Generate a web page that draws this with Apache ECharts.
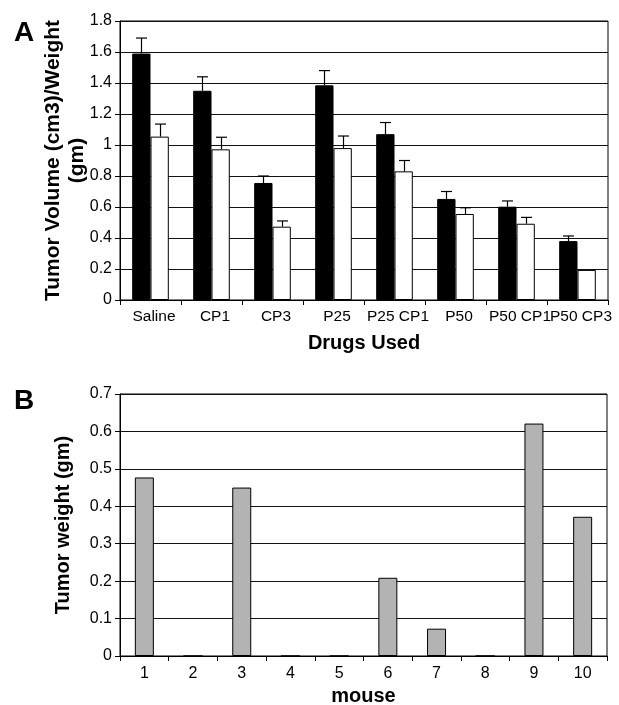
<!DOCTYPE html>
<html>
<head>
<meta charset="utf-8">
<script src="https://cdn.jsdelivr.net/npm/echarts@6/dist/echarts.min.js"></script>
<style>
  html, body { margin: 0; padding: 0; background: #fff; }
  #main { width: 619px; height: 705px; }
</style>
</head>
<body>
<div id="main"></div>
<script>
// panel A: drugs
var drugs = ['Saline', 'CP1', 'CP3', 'P25', 'P25 CP1', 'P50', 'P50 CP1', 'P50 CP3'];
var blackMeans = [1.59, 1.35, 0.755, 1.385, 1.07, 0.652, 0.602, 0.38];
var blackErrs = [0.10, 0.09, 0.045, 0.095, 0.075, 0.048, 0.037, 0.033];
var whiteMeans = [1.054, 0.972, 0.473, 0.98, 0.83, 0.555, 0.492, 0.194];
var whiteErrs = [0.081, 0.078, 0.037, 0.078, 0.07, 0.04, 0.041, 0];

// panel B: mice
var mice = ['1', '2', '3', '4', '5', '6', '7', '8', '9', '10'];
var tumorWeights = [0.477, 0, 0.45, 0, 0, 0.209, 0.073, 0, 0.621, 0.372];

var font = 'Liberation Sans, Arial, sans-serif';
var barFrac = 0.30;

var chart = echarts.init(document.getElementById('main'));

function errData(means, errs) {
  return means.map(function (m, i) {
    return [i, m, m + errs[i]];
  });
}

function errRenderer(side) {
  return function (params, api) {
    var i = api.value(0);
    var base = api.coord([i, api.value(1)]);
    var top = api.coord([i, api.value(2)]);
    var band = api.size([1, 0])[0];
    var cx = Math.round(base[0] + side * band * barFrac / 2) + 0.5;
    if (api.value(2) - api.value(1) <= 0) return null;
    return {
      type: 'group',
      children: [
        { type: 'line', shape: { x1: cx, y1: base[1], x2: cx, y2: top[1] }, style: { stroke: '#000', lineWidth: 1.2 } },
        { type: 'line', shape: { x1: cx - 5.5, y1: top[1], x2: cx + 5.5, y2: top[1] }, style: { stroke: '#000', lineWidth: 1.2 } }
      ]
    };
  };
}

var axisText = { color: '#000', fontSize: 16, fontFamily: font };
var nameText = { color: '#000', fontSize: 20, fontWeight: 'bold', fontFamily: font };

option = {
  backgroundColor: '#fff',
  animation: false,
  title: [
    { text: 'A', left: 9, top: 14, textStyle: { fontSize: 28, fontWeight: 'bold', color: '#000', fontFamily: font } },
    { text: 'B', left: 9, top: 382, textStyle: { fontSize: 28, fontWeight: 'bold', color: '#000', fontFamily: font } }
  ],
  grid: [
    { left: 120, right: 11, top: 21, bottom: 405, show: true, borderColor: '#000', borderWidth: 1, outerBoundsMode: 'none' },
    { left: 120, right: 12, top: 394, bottom: 49, show: true, borderColor: '#000', borderWidth: 1, outerBoundsMode: 'none' }
  ],
  xAxis: [
    {
      gridIndex: 0, type: 'category', data: drugs,
      axisLine: { lineStyle: { color: '#000', width: 1 } },
      axisTick: { show: true, length: 5, lineStyle: { color: '#000' } },
      axisLabel: Object.assign({ margin: 9, interval: 0, padding: [0, 0, 0, 7] }, axisText, { fontSize: 15.5 }),
      name: 'Drugs Used', nameLocation: 'middle', nameGap: 33, nameMoveOverlap: false,
      nameTextStyle: nameText
    },
    {
      gridIndex: 1, type: 'category', data: mice,
      axisLine: { lineStyle: { color: '#000', width: 1 } },
      axisTick: { show: true, length: 5, lineStyle: { color: '#000' } },
      axisLabel: Object.assign({ margin: 10, interval: 0 }, axisText),
      name: 'mouse', nameLocation: 'middle', nameGap: 30, nameMoveOverlap: false,
      nameTextStyle: nameText
    }
  ],
  yAxis: [
    {
      gridIndex: 0, type: 'value', min: 0, max: 1.8, interval: 0.2,
      axisLine: { show: true, lineStyle: { color: '#000', width: 1 } },
      axisTick: { show: true, length: 5, lineStyle: { color: '#000' } },
      axisLabel: Object.assign({ margin: 8 }, axisText),
      splitLine: { lineStyle: { color: '#111', width: 1 } },
      name: 'Tumor Volume (cm3)/Weight\n(gm)', nameLocation: 'middle', nameGap: 31, nameRotate: 90,
      nameMoveOverlap: false,
      nameTextStyle: Object.assign({}, nameText, { fontSize: 21, lineHeight: 24 })
    },
    {
      gridIndex: 1, type: 'value', min: 0, max: 0.7, interval: 0.1,
      axisLine: { show: true, lineStyle: { color: '#000', width: 1 } },
      axisTick: { show: true, length: 5, lineStyle: { color: '#000' } },
      axisLabel: Object.assign({ margin: 8 }, axisText),
      splitLine: { lineStyle: { color: '#111', width: 1 } },
      name: 'Tumor weight (gm)', nameLocation: 'middle', nameGap: 47, nameRotate: 90,
      nameMoveOverlap: false,
      nameTextStyle: nameText
    }
  ],
  series: [
    {
      type: 'bar', xAxisIndex: 0, yAxisIndex: 0, data: blackMeans,
      barWidth: (barFrac * 100) + '%', barGap: '0%',
      itemStyle: { color: '#000', borderColor: '#000', borderWidth: 1 }
    },
    {
      type: 'bar', xAxisIndex: 0, yAxisIndex: 0, data: whiteMeans,
      barWidth: (barFrac * 100) + '%', barGap: '0%',
      itemStyle: { color: '#fff', borderColor: '#000', borderWidth: 1 }
    },
    {
      type: 'custom', xAxisIndex: 0, yAxisIndex: 0, z: 5,
      data: errData(blackMeans, blackErrs), renderItem: errRenderer(-1)
    },
    {
      type: 'custom', xAxisIndex: 0, yAxisIndex: 0, z: 5,
      data: errData(whiteMeans, whiteErrs), renderItem: errRenderer(1)
    },
    {
      type: 'bar', xAxisIndex: 1, yAxisIndex: 1, data: tumorWeights,
      barWidth: '39%',
      itemStyle: { color: '#b3b3b3', borderColor: '#000', borderWidth: 1 }
    }
  ]
};

chart.setOption(option);
window.onresize = chart.resize;
</script>
</body>
</html>
